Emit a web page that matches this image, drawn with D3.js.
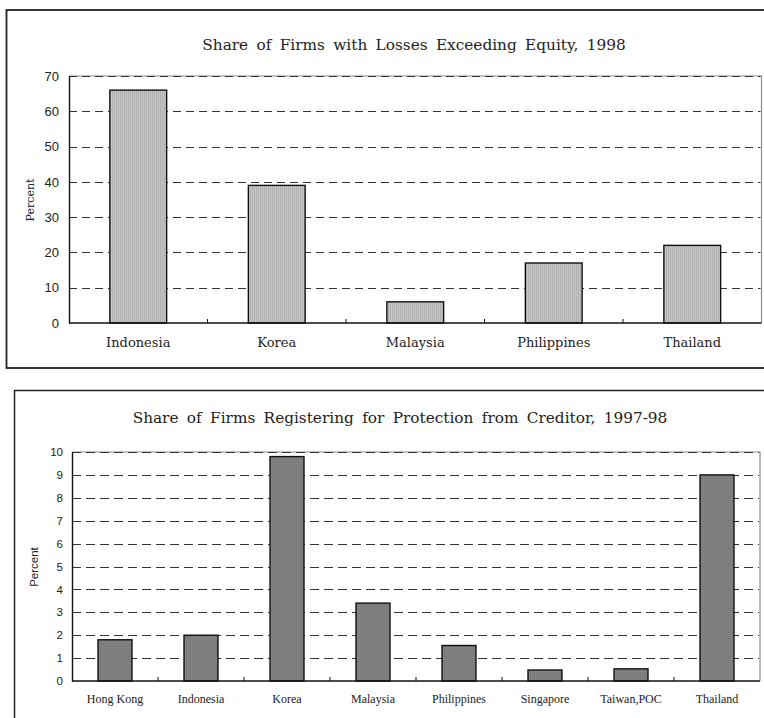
<!DOCTYPE html>
<html>
<head>
<meta charset="utf-8">
<script src="https://cdn.jsdelivr.net/npm/d3@7"></script>
<style>
  html, body { margin: 0; padding: 0; background: #fff; }
  svg { display: block; }
</style>
</head>
<body>
<svg id="chart" width="764" height="718"></svg>
<script>
// Share of firms with losses exceeding equity, 1998
const lossCountries = ["Indonesia", "Korea", "Malaysia", "Philippines", "Thailand"];
const lossValues = [66, 39, 6, 17, 22];
const lossTicks = [0, 10, 20, 30, 40, 50, 60, 70];

// Share of firms registering for protection from creditors, 1997-98
const protCountries = ["Hong Kong", "Indonesia", "Korea", "Malaysia", "Philippines", "Singapore", "Taiwan,POC", "Thailand"];
const protValues = [1.8, 2.0, 9.8, 3.4, 1.55, 0.48, 0.53, 9.0];
const protTicks = [0, 1, 2, 3, 4, 5, 6, 7, 8, 9, 10];

const svg = d3.select("#chart");
const defs = svg.append("defs");

// Light gray fill with fine vertical stripes
const pLight = defs.append("pattern").attr("id", "stripes")
  .attr("patternUnits", "userSpaceOnUse").attr("width", 2).attr("height", 2);
pLight.append("rect").attr("width", 2).attr("height", 2).attr("fill", "#c6c6c6");
pLight.append("rect").attr("width", 1).attr("height", 2).attr("fill", "#b0b0b0");

// Dark gray finely dotted fill
const pDark = defs.append("pattern").attr("id", "dots")
  .attr("patternUnits", "userSpaceOnUse").attr("width", 2).attr("height", 2);
pDark.append("rect").attr("width", 2).attr("height", 2).attr("fill", "#828282");
pDark.append("rect").attr("width", 1).attr("height", 1).attr("fill", "#747474");

function panel(cfg) {
  const g = svg.append("g");

  // frame around the panel
  g.append("rect")
    .attr("x", cfg.frame[0]).attr("y", cfg.frame[1])
    .attr("width", cfg.frame[2]).attr("height", cfg.frame[3])
    .attr("fill", "none").attr("stroke", "#222").attr("stroke-width", cfg.frameWidth);

  const x = d3.scaleBand().domain(cfg.categories).range([cfg.left, cfg.right]).padding(0);
  const y = d3.scaleLinear().domain([0, d3.max(cfg.ticks)]).range([cfg.bottom, cfg.top]);

  // plot-area border (top and right, gray)
  g.append("path")
    .attr("d", `M${cfg.left},${cfg.top}H${cfg.right}V${cfg.bottom}`)
    .attr("fill", "none").attr("stroke", "#8c8c8c").attr("stroke-width", 1.2);

  // dashed gridlines
  g.append("g").selectAll("line").data(cfg.ticks.filter(t => t > 0)).join("line")
    .attr("x1", cfg.left).attr("x2", cfg.right - 1)
    .attr("y1", d => Math.round(y(d)) + 0.5).attr("y2", d => Math.round(y(d)) + 0.5)
    .attr("stroke", "#333").attr("stroke-width", 1)
    .attr("stroke-dasharray", cfg.dash);

  // bars
  const bw = x.bandwidth() * cfg.barFrac;
  g.append("g").selectAll("rect").data(cfg.values).join("rect")
    .attr("x", (d, i) => x(cfg.categories[i]) + (x.bandwidth() - bw) / 2)
    .attr("y", d => y(d))
    .attr("width", bw)
    .attr("height", d => y(0) - y(d))
    .attr("fill", cfg.fill).attr("stroke", "#111").attr("stroke-width", 1.4);

  // y axis
  const yAxis = g.append("g").attr("transform", `translate(${cfg.left},0)`)
    .call(d3.axisLeft(y).tickValues(cfg.ticks).tickSize(0).tickPadding(cfg.tickPad));
  yAxis.select(".domain").attr("stroke", "#111").attr("stroke-width", 1.4);
  yAxis.selectAll("text")
    .attr("font-family", "Liberation Sans, Arial, sans-serif")
    .attr("font-size", cfg.yFont).attr("fill", "#222");

  // x axis: baseline with small inward ticks at category boundaries
  g.append("line").attr("x1", cfg.left).attr("x2", cfg.right)
    .attr("y1", y(0)).attr("y2", y(0))
    .attr("stroke", "#111").attr("stroke-width", 1.4);
  g.append("g").selectAll("line").data(cfg.categories.slice(1)).join("line")
    .attr("x1", d => x(d)).attr("x2", d => x(d))
    .attr("y1", y(0)).attr("y2", y(0) - 4)
    .attr("stroke", "#111").attr("stroke-width", 1);
  g.append("g").selectAll("text").data(cfg.categories).join("text")
    .attr("x", d => x(d) + x.bandwidth() / 2)
    .attr("y", cfg.catY)
    .attr("text-anchor", "middle")
    .attr("font-family", cfg.catFontFamily)
    .attr("font-size", cfg.catFont).attr("fill", "#222")
    .text(d => d);

  // axis title
  g.append("text")
    .attr("transform", `translate(${cfg.yTitleX},${cfg.yTitleY}) rotate(-90)`)
    .attr("text-anchor", "middle")
    .attr("font-family", cfg.yTitleFamily)
    .attr("font-size", cfg.yTitleFont).attr("fill", "#222")
    .text("Percent");

  // chart title
  g.append("text")
    .attr("x", cfg.titleX).attr("y", cfg.titleY)
    .attr("text-anchor", "middle")
    .attr("font-family", "DejaVu Serif, serif")
    .attr("font-size", cfg.titleFont)
    .attr("word-spacing", cfg.wordSpacing)
    .attr("fill", "#222")
    .text(cfg.title);
}

panel({
  frame: [6.5, 10, 800, 358], frameWidth: 1.8,
  categories: lossCountries, values: lossValues, ticks: lossTicks,
  left: 69, right: 761.5, top: 76, bottom: 323,
  dash: "8,5", fill: "url(#stripes)", barFrac: 0.41,
  tickPad: 10, yFont: 13,
  catY: 347, catFont: 13, catFontFamily: "DejaVu Serif, serif",
  yTitleX: 34, yTitleY: 200, yTitleFamily: "DejaVu Serif, serif", yTitleFont: 11,
  titleX: 414, titleY: 50, titleFont: 15.3, wordSpacing: 3.5,
  title: "Share of Firms with Losses Exceeding Equity, 1998"
});

panel({
  frame: [14.5, 390.5, 800, 400], frameWidth: 1.5,
  categories: protCountries, values: protValues, ticks: protTicks,
  left: 72, right: 760, top: 452, bottom: 681,
  dash: "9,5", fill: "url(#dots)", barFrac: 0.395,
  tickPad: 9, yFont: 11.5,
  catY: 703, catFont: 12, catFontFamily: "Liberation Serif, Times New Roman, serif",
  yTitleX: 38, yTitleY: 567, yTitleFamily: "Liberation Sans, Arial, sans-serif", yTitleFont: 11.5,
  titleX: 400, titleY: 423, titleFont: 15.3, wordSpacing: 3.5,
  title: "Share of Firms Registering for Protection from Creditor, 1997-98"
});
</script>
</body>
</html>
